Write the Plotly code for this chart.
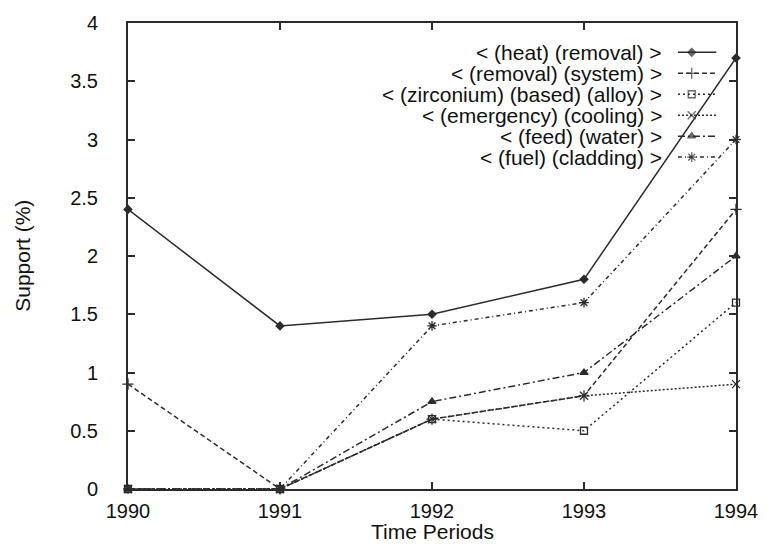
import plotly.graph_objects as go

# ---------------- data ----------------
years = [1990, 1991, 1992, 1993, 1994]
series_names = [
    "< (heat) (removal) >",
    "< (removal) (system) >",
    "< (zirconium) (based) (alloy) >",
    "< (emergency) (cooling) >",
    "< (feed) (water) >",
    "< (fuel) (cladding) >",
]
heat_removal = [2.4, 1.4, 1.5, 1.8, 3.7]
removal_system = [0.9, 0.0, 0.6, 0.8, 2.4]
zirconium_based_alloy = [0.0, 0.0, 0.6, 0.5, 1.6]
emergency_cooling = [0.0, 0.0, 0.6, 0.8, 0.9]
feed_water = [0.0, 0.0, 0.75, 1.0, 2.0]
fuel_cladding = [0.0, 0.0, 1.4, 1.6, 3.0]
y_ticks = [0, 0.5, 1, 1.5, 2, 2.5, 3, 3.5, 4]
y_tick_labels = ["0", "0.5", "1", "1.5", "2", "2.5", "3", "3.5", "4"]
x_tick_labels = ["1990", "1991", "1992", "1993", "1994"]
x_title = "Time Periods"
y_title = "Support (%)"

values = [heat_removal, removal_system, zirconium_based_alloy,
          emergency_cooling, feed_water, fuel_cladding]

# ---------------- styles ----------------
LINE = "#2b2b2b"
TEXT = "#111111"
FONT = "Liberation Sans, Arial, Helvetica, sans-serif"
dashes = ["solid", "5px,3px", "2px,3px", "2px,2px", "7px,3px,2px,3px", "4px,3px,1px,3px"]
symbols = ["diamond", "cross-thin-open", "square-open", "x-thin-open", "triangle-up", "asterisk-open"]
msizes = [6, 8, 7, 8, 7, 8]

# plot area in pixels
W, H = 770, 546
L, R, T, B = 128, 24, 13, 57
pw = W - L - R
ph = H - T - B

fig = go.Figure()
for name, vals, dsh, sym, ms in zip(series_names, values, dashes, symbols, msizes):
    fig.add_trace(go.Scatter(
        x=years, y=vals, name=name, mode="lines+markers",
        line=dict(color=LINE, width=1.5, dash=dsh),
        marker=dict(symbol=sym, size=ms, color=LINE,
                    line=dict(color=LINE, width=1.3)),
        cliponaxis=False, showlegend=False,
    ))

# ---------------- gnuplot-style key (text right-aligned, sample to its right) ----------------
row0_px = 43.0
row_step = 21.4
text_right_px = 673
samp_x0_px, samp_x1_px, samp_mark_px = 687, 726, 701
for i, (name, dsh, sym, ms) in enumerate(zip(series_names, dashes, symbols, msizes)):
    yp = (H - B - (row0_px + i * row_step)) / ph
    fig.add_annotation(
        x=(text_right_px - L) / pw, y=yp, xref="paper", yref="paper",
        text=name, showarrow=False, xanchor="right", yanchor="middle",
        font=dict(family=FONT, size=21, color=TEXT),
    )
    fig.add_trace(go.Scatter(
        x=[(samp_x0_px - L) / pw, (samp_mark_px - L) / pw, (samp_x1_px - L) / pw],
        y=[yp, yp, yp], xaxis="x2", yaxis="y2", mode="lines+markers",
        line=dict(color=LINE, width=1.5, dash=dsh),
        marker=dict(symbol=sym, size=[0, ms, 0], color=LINE,
                    line=dict(color=LINE, width=1.3)),
        showlegend=False, hoverinfo="skip", cliponaxis=False,
    ))

# x-axis title as annotation (placed like the reference)
fig.add_annotation(
    x=0.5, y=-(532 - (H - B)) / ph, xref="paper", yref="paper",
    text=x_title, showarrow=False, xanchor="center", yanchor="middle",
    font=dict(family=FONT, size=21, color=TEXT),
)
# y-axis title as annotation
fig.add_annotation(
    x=-(L - 20) / pw, y=0.5, xref="paper", yref="paper",
    text=y_title, showarrow=False, xanchor="center", yanchor="middle",
    textangle=-90, font=dict(family=FONT, size=21, color=TEXT),
)

fig.update_layout(
    width=W, height=H,
    margin=dict(l=L, r=R, t=T, b=B),
    paper_bgcolor="white", plot_bgcolor="white",
    font=dict(family=FONT, size=20, color=TEXT),
    showlegend=False,
    xaxis=dict(
        range=[1990, 1994], tickvals=years, ticktext=x_tick_labels,
        showgrid=False, zeroline=False, showline=True, mirror="ticks",
        linecolor=LINE, linewidth=2, ticks="inside", ticklen=7, tickwidth=1.5,
        tickcolor=LINE, ticklabelstandoff=3,
        tickfont=dict(family=FONT, size=20, color=TEXT),
    ),
    yaxis=dict(
        range=[0, 4], tickvals=y_ticks, ticktext=y_tick_labels,
        showgrid=False, zeroline=False, showline=True, mirror="ticks",
        linecolor=LINE, linewidth=2, ticks="inside", ticklen=7, tickwidth=1.5,
        tickcolor=LINE, ticklabelstandoff=24,
        tickfont=dict(family=FONT, size=20, color=TEXT),
    ),
    xaxis2=dict(range=[0, 1], overlaying="x", visible=False, fixedrange=True),
    yaxis2=dict(range=[0, 1], overlaying="y", visible=False, fixedrange=True),
)

fig.write_html(
    "out.html",
    config={"displayModeBar": False},
    post_script="document.body.style.margin='0';document.body.style.padding='0';",
)
